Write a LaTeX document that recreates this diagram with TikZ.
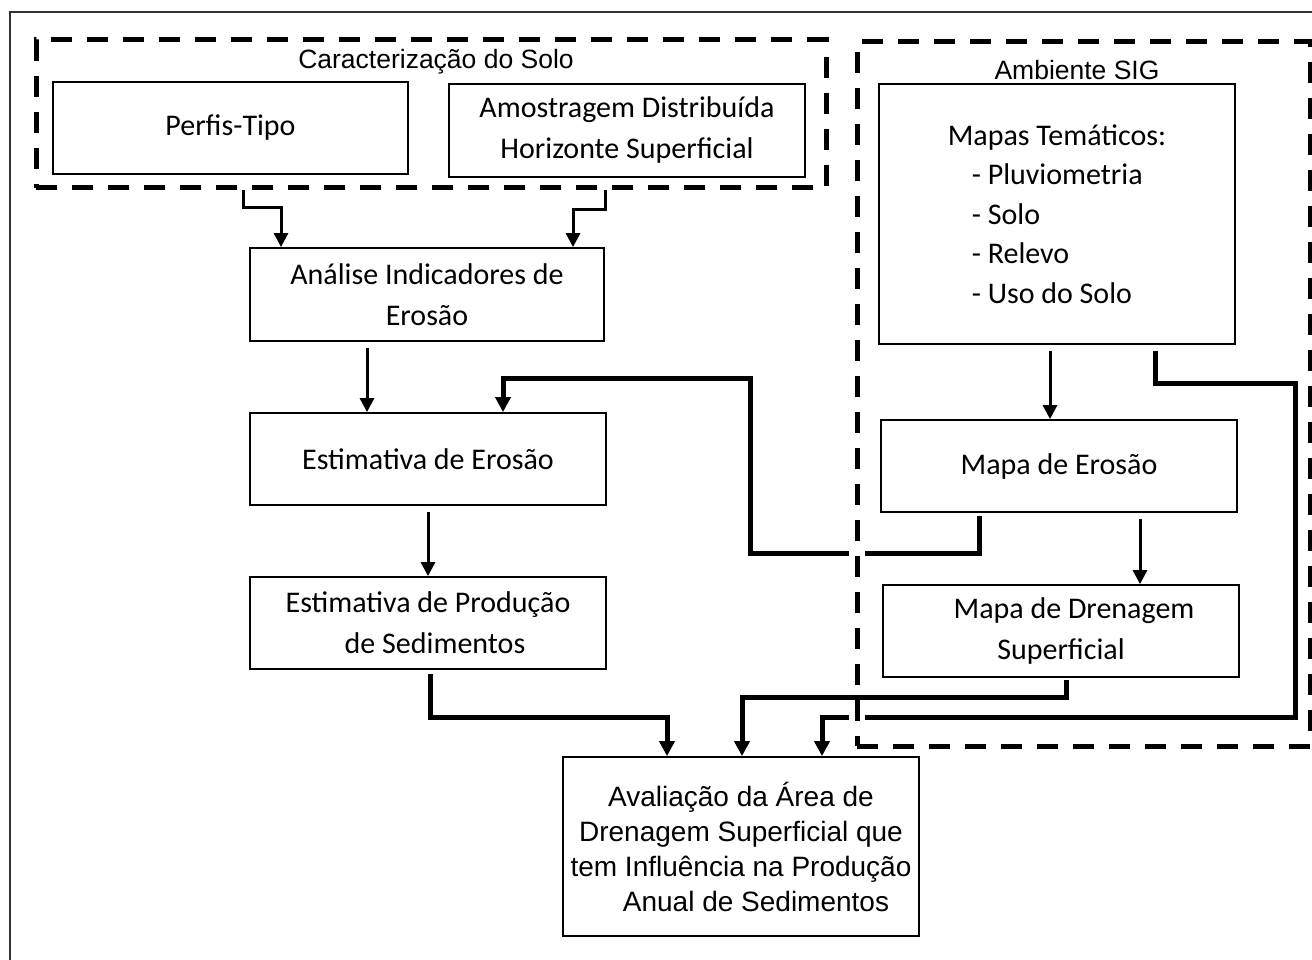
\documentclass[tikz,border=0pt]{standalone}
\usepackage{fontspec}
\setmainfont{Carlito}
\newfontfamily\arialf{Liberation Sans}
\usetikzlibrary{arrows.meta}
\begin{document}
\begin{tikzpicture}[x=1pt,y=-1pt,
  box/.style={draw, line width=1.8pt, inner sep=0pt, align=center,
    font=\fontsize{30}{41}\selectfont},
  grp/.style={draw, line width=5pt, dash pattern=on 21pt off 15pt, inner sep=0pt},
  thin/.style={line width=3pt, -{Triangle[length=14pt,width=14pt]}},
  thick/.style={line width=5pt, -{Triangle[length=15pt,width=15pt]}},
  ttl/.style={font=\arialf\fontsize{26.5}{30}\selectfont, inner sep=0pt},
  gap/.style={fill=white}
]
\useasboundingbox (0,0) rectangle (1312,960);
\clip (0,0) rectangle (1312,960);
\fill[white] (0,0) rectangle (1312,960);
\draw[line width=2pt, black!80] (10,12) rectangle (1340,990);

% boxes
\node[box, minimum width=355pt, minimum height=92pt] (perfis) at (230.5,128) {Perfis-Tipo};
\node[box, minimum width=356pt, minimum height=93pt] (amost) at (627,130.5) {Amostragem Distribuída\\Horizonte Superficial};
\node[box, minimum width=354pt, minimum height=93pt] (analise) at (427,294.5) {Análise Indicadores de\\Erosão};
\node[box, minimum width=356pt, minimum height=92pt] (estero) at (428,459) {Estimativa de Erosão};
\node[box, minimum width=356pt, minimum height=92pt] (estprod) at (428,623) {Estimativa de Produção\\\hspace*{14pt}de Sedimentos};
\node[box, minimum width=356pt, minimum height=260pt, align=left, font=\fontsize{30}{39.5}\selectfont] (mapas) at (1057,214)
  {Mapas Temáticos:\\\hspace*{24pt}- Pluviometria\\\hspace*{24pt}- Solo\\\hspace*{24pt}- Relevo\\\hspace*{24pt}- Uso do Solo};
\node[box, minimum width=356pt, minimum height=92pt] (mapaero) at (1059,466) {Mapa de Erosão};
\node[box, minimum width=356pt, minimum height=92pt] (mapadren) at (1061,631) {\hspace*{26pt}Mapa de Drenagem\\Superficial};
\node[box, minimum width=356pt, minimum height=179pt, font=\arialf\fontsize{28}{35}\selectfont] (aval) at (741,846.5)
  {Avaliação da Área de\\Drenagem Superficial que\\tem Influência na Produção\\\hspace*{30pt}Anual de Sedimentos};

% connectors
\draw[thin] (analise.south -| 367,0) ++(0,6) -- (estero.north -| 367,0);
\draw[thin] (estero.south -| 428,0) ++(0,6) -- (estprod.north -| 428,0);
\draw[thin] (mapas.south -| 1050,0) ++(0,6) -- (mapaero.north -| 1050,0);
\draw[thin] (mapaero.south -| 1140,0) ++(0,6) -- (mapadren.north -| 1140,0);

\draw[thick] (mapaero.south -| 979,0) ++(0,3) -- (979,553) -| (750,378) -| (estero.north -| 503,0);
\draw[thick] (mapas.south -| 1155,0) ++(0,6) -- (1155,383) -| (1295,717) -| (aval.north -| 822,0);
\draw[thick] (mapadren.south -| 1066,0) ++(0,2) -- (1066,697) -| (aval.north -| 742,0);
\draw[thick] (estprod.south -| 430,0) ++(0,4) -- (430,717) -| (aval.north -| 667,0);

% gaps where thick lines cross the dashed frame
\fill[gap] (849,548) rectangle (865,558);
\fill[gap] (849,712) rectangle (865,722);

% group boxes
\node[grp, minimum width=790pt, minimum height=148pt] (solo) at (431,114) {};
\node[ttl] at (436,62) {Caracterização do Solo};
\node[grp, minimum width=453pt, minimum height=704pt] (sig) at (1083.5,394) {};
\node[ttl] at (1077,70) {Ambiente SIG};

\draw[thin] (solo.south -| 243,0) -- (243,208) -| (analise.north -| 281,0);
\draw[thin] (solo.south -| 605,0) -- (605,210) -| (analise.north -| 573,0);
\end{tikzpicture}
\end{document}
